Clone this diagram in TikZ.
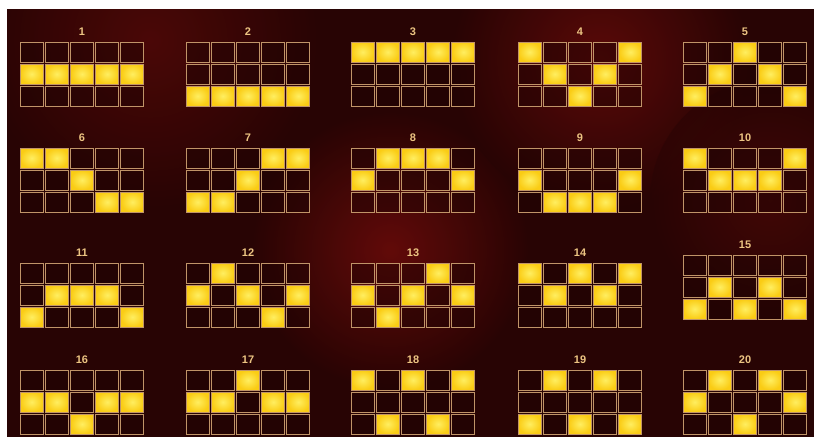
\documentclass[tikz,border=0pt]{standalone}
\usepackage{fontspec}
\setmainfont{Liberation Sans}
\definecolor{bgdark}{RGB}{40,4,4}
\definecolor{bgred}{RGB}{112,12,10}
\definecolor{cellline}{RGB}{192,148,104}
\definecolor{cellvoid}{RGB}{30,3,3}
\definecolor{litein}{RGB}{255,238,96}
\definecolor{liteout}{RGB}{250,204,20}
\definecolor{numgold}{RGB}{236,196,130}
\tikzset{
  cell/.style={draw=cellline,line width=1pt,fill=cellvoid,fill opacity=0.45,draw opacity=1,minimum width=23pt,minimum height=20pt,inner sep=0pt},
  litcell/.style={cell,fill opacity=1,inner color=litein,outer color=liteout},
  linenum/.style={text=numgold,inner sep=0pt,font=\bfseries\fontsize{11}{13}\selectfont},
}

\begin{document}
\begin{tikzpicture}[x=1pt,y=-1pt]
\path[use as bounding box] (0,0) rectangle (814,437);
% background
\fill[white] (0,0) rectangle (814,437);
\fill[bgdark] (7,9) rectangle (814,437);
\begin{scope}
\clip (7,9) rectangle (814,437);
\shade[inner color=bgred,outer color=bgdark,opacity=0.8] (390,250) circle (140);
\shade[inner color=bgred,outer color=bgdark,opacity=0.7] (600,60) circle (150);
\shade[inner color=bgred!80!bgdark,outer color=bgdark,opacity=0.6] (150,40) circle (170);
\shade[inner color=bgred!70!bgdark,outer color=bgdark,opacity=0.5] (770,200) circle (120);
\end{scope}
% paylines: number / centre x / top y / lit row of each reel
\foreach \n/\gx/\gy/\ra/\rb/\rc/\rd/\re in {
  1/82/42/1/1/1/1/1, 2/248/42/2/2/2/2/2, 3/413/42/0/0/0/0/0,
  4/580/42/0/1/2/1/0, 5/745/42/2/1/0/1/2,
  6/82/148/0/0/1/2/2, 7/248/148/2/2/1/0/0, 8/413/148/1/0/0/0/1,
  9/580/148/1/2/2/2/1, 10/745/148/0/1/1/1/0,
  11/82/263/2/1/1/1/2, 12/248/263/1/0/1/2/1, 13/413/263/1/2/1/0/1,
  14/580/263/0/1/0/1/0, 15/745/255/2/1/2/1/2,
  16/82/370/1/1/2/1/1, 17/248/370/1/1/0/1/1, 18/413/370/0/2/0/2/0,
  19/580/370/2/0/2/0/2, 20/745/370/1/0/2/0/1}{
  \node[linenum] (num\n) at (\gx,\gy-10) {\n};
  \foreach \c/\r in {0/\ra,1/\rb,2/\rc,3/\rd,4/\re}{
    \foreach \k in {0,1,2}{
      \ifnum\k=\r
        \node[litcell] (c\n-\c-\k) at (\gx-50.4+\c*25.2,\gy+10+\k*22) {};
      \else
        \node[cell] (c\n-\c-\k) at (\gx-50.4+\c*25.2,\gy+10+\k*22) {};
      \fi
    }
  }
}
\end{tikzpicture}
\end{document}
